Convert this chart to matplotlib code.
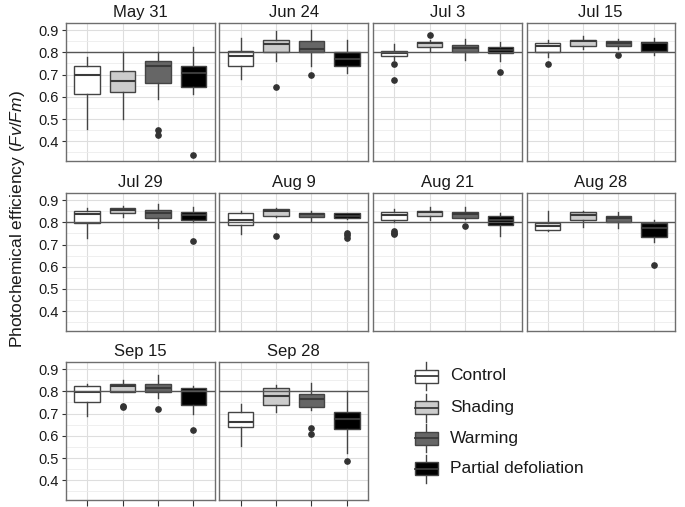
import numpy as np
import matplotlib.pyplot as plt
from matplotlib.patches import Rectangle

plt.rcParams['font.family'] = ['Liberation Sans', 'DejaVu Sans']
plt.rcParams['mathtext.fontset'] = 'custom'
plt.rcParams['mathtext.rm'] = 'Liberation Sans'
plt.rcParams['mathtext.it'] = 'Liberation Sans:italic'

dates = ['May 31', 'Jun 24', 'Jul 3', 'Jul 15', 'Jul 29',
         'Aug 9', 'Aug 21', 'Aug 28', 'Sep 15', 'Sep 28']
groups = ['Control', 'Shading', 'Warming', 'Partial defoliation']
fills = ['#ffffff', '#cccccc', '#666666', '#000000']

# box stats per date: one value per treatment (Control, Shading, Warming, Partial)
whis_lo = [[0.456, 0.498, 0.589, 0.611], [0.679, 0.759, 0.740, 0.706],
           [0.765, 0.808, 0.767, 0.759], [0.777, 0.815, 0.815, 0.788],
           [0.731, 0.823, 0.776, 0.803], [0.746, 0.826, 0.806, 0.814],
           [0.800, 0.811, 0.814, 0.738], [0.761, 0.777, 0.773, 0.710],
           [0.690, 0.795, 0.770, 0.697], [0.554, 0.709, 0.717, 0.524]]
q1 = [[0.614, 0.623, 0.664, 0.646], [0.740, 0.803, 0.803, 0.737],
      [0.782, 0.823, 0.803, 0.797], [0.803, 0.827, 0.827, 0.808],
      [0.795, 0.844, 0.818, 0.811], [0.788, 0.829, 0.823, 0.818],
      [0.811, 0.830, 0.821, 0.788], [0.765, 0.811, 0.803, 0.735],
      [0.750, 0.797, 0.797, 0.740], [0.638, 0.737, 0.729, 0.631]]
med = [[0.699, 0.669, 0.737, 0.706], [0.782, 0.836, 0.815, 0.770],
       [0.797, 0.841, 0.818, 0.812], [0.827, 0.853, 0.842, 0.841],
       [0.836, 0.856, 0.841, 0.833], [0.811, 0.851, 0.836, 0.830],
       [0.833, 0.848, 0.838, 0.811], [0.783, 0.833, 0.818, 0.773],
       [0.797, 0.823, 0.815, 0.800], [0.661, 0.780, 0.767, 0.675]]
q3 = [[0.740, 0.717, 0.759, 0.740], [0.808, 0.856, 0.851, 0.803],
      [0.808, 0.845, 0.832, 0.823], [0.841, 0.857, 0.850, 0.848],
      [0.851, 0.866, 0.856, 0.848], [0.841, 0.859, 0.844, 0.841],
      [0.845, 0.853, 0.845, 0.829], [0.795, 0.848, 0.830, 0.798],
      [0.823, 0.833, 0.833, 0.815], [0.709, 0.815, 0.786, 0.705]]
whis_hi = [[0.777, 0.800, 0.800, 0.823], [0.863, 0.895, 0.901, 0.857],
           [0.838, 0.857, 0.860, 0.848], [0.856, 0.875, 0.860, 0.863],
           [0.863, 0.875, 0.883, 0.871], [0.851, 0.863, 0.853, 0.844],
           [0.859, 0.868, 0.871, 0.844], [0.851, 0.851, 0.848, 0.811],
           [0.833, 0.853, 0.875, 0.826], [0.743, 0.827, 0.838, 0.800]]
outliers = [[[], [], [0.450, 0.430], [0.340]],
            [[], [0.643], [0.697], []],
            [[0.747, 0.675], [0.880], [], [0.712]],
            [[0.747], [], [0.789], []],
            [[], [], [], [0.716]],
            [[], [0.738], [], [0.753, 0.743, 0.728]],
            [[0.761, 0.754, 0.747], [], [0.785], []],
            [[], [], [], [0.606]],
            [[], [0.735, 0.728], [0.722], [0.626]],
            [[], [], [0.634, 0.607], [0.488]]]
yticks = [0.4, 0.5, 0.6, 0.7, 0.8, 0.9]
ref_line = 0.8

W, H = 685, 507
fig = plt.figure(figsize=(W / 100, H / 100), dpi=100)

col_left = [66, 219.5, 373, 526.5]
col_w = 148.5
row_top = [23, 193, 362]
row_h = 138

edge = '#444444'
for i, d in enumerate(dates):
    r, c = divmod(i, 4)
    x0 = col_left[c]
    y0 = row_top[r]
    ax = fig.add_axes([x0 / W, 1 - (y0 + row_h) / H, col_w / W, row_h / H])
    stats = []
    for g in range(4):
        stats.append(dict(med=med[i][g], q1=q1[i][g], q3=q3[i][g],
                          whislo=whis_lo[i][g], whishi=whis_hi[i][g],
                          fliers=outliers[i][g]))
    bp = ax.bxp(stats, positions=[1, 2, 3, 4], widths=0.72, patch_artist=True,
                showcaps=False, manage_ticks=False,
                boxprops=dict(edgecolor=edge, linewidth=1.0),
                medianprops=dict(color='#3a3a3a', linewidth=1.5),
                whiskerprops=dict(color=edge, linewidth=1.0),
                flierprops=dict(marker='o', markersize=3.8, markerfacecolor='#333333',
                                markeredgecolor='#333333'))
    for patch, fc in zip(bp['boxes'], fills):
        patch.set_facecolor(fc)
    for ln in bp['boxes'] + bp['whiskers'] + bp['medians'] + bp['fliers']:
        ln.set_zorder(3)
    ax.axhline(ref_line, color='#555555', linewidth=1.0, zorder=4)

    ax.set_xlim(0.4, 4.6)
    ax.set_ylim(0.311, 0.932)
    ax.set_yticks(yticks)
    ax.set_yticks(np.arange(0.35, 0.93, 0.1), minor=True)
    ax.set_xticks([1, 2, 3, 4])
    ax.grid(which='major', color='#dedede', linewidth=0.8, zorder=0)
    ax.grid(which='minor', axis='y', color='#ededed', linewidth=0.6, zorder=0)
    ax.set_axisbelow(True)
    for s in ax.spines.values():
        s.set_color('#6e6e6e')
        s.set_linewidth(1.0)
    ax.tick_params(which='minor', length=0)
    if c == 0:
        ax.tick_params(axis='y', length=3, width=0.8, color='#333333', pad=2,
                       labelsize=10.5, labelcolor='#1a1a1a')
        ax.set_yticklabels(['%.1f' % v for v in yticks])
    else:
        ax.tick_params(axis='y', length=0, labelleft=False)
    if r == 2:
        ax.tick_params(axis='x', length=4, width=0.8, color='#333333', labelbottom=False)
    else:
        ax.tick_params(axis='x', length=0, labelbottom=False)
    ax.set_title(d, fontsize=12, pad=4.5, color='#1a1a1a')

fig.text(18 / W, 1 - 219 / H, r'Photochemical efficiency ($\mathit{Fv/Fm}$)',
         rotation=90, ha='center', va='center', fontsize=12.5, color='#1a1a1a')

# legend drawn in pixel coordinates
leg = fig.add_axes([0, 0, 1, 1])
leg.set_xlim(0, W)
leg.set_ylim(H, 0)
leg.axis('off')
leg.patch.set_visible(False)
key_cx = 426.5
key_y = [376, 407.5, 438, 468.5]
for g, (name, fc) in enumerate(zip(groups, fills)):
    cy = key_y[g]
    leg.plot([key_cx, key_cx], [cy - 14, cy + 14], color=edge, lw=1.0, zorder=1)
    leg.add_patch(Rectangle((key_cx - 11.5, cy - 6.5), 23, 13, facecolor=fc,
                            edgecolor=edge, lw=1.0, zorder=2))
    leg.plot([key_cx - 11.5, key_cx + 11.5], [cy, cy], color='#3a3a3a', lw=1.3, zorder=3)
    leg.text(450, cy, name, fontsize=12.5, va='center', ha='left', color='#1a1a1a')

fig.savefig('out.png', dpi=100)
